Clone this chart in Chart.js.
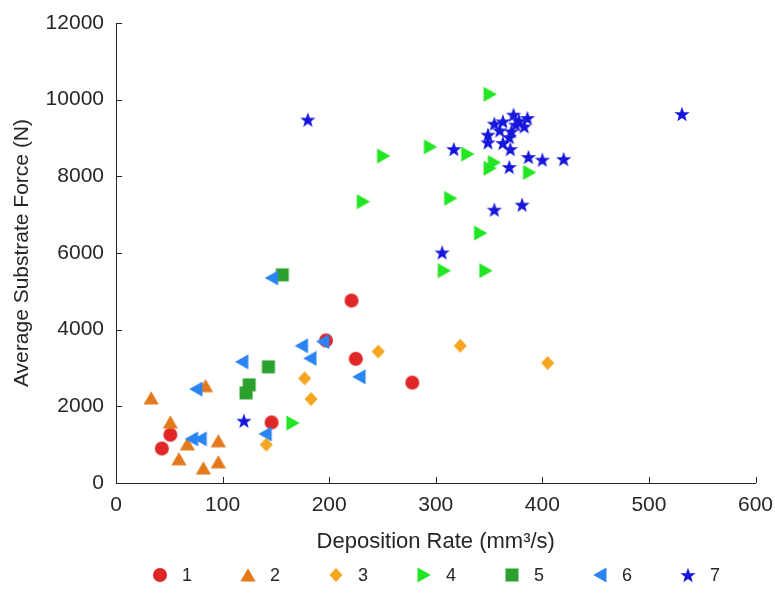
<!DOCTYPE html>
<html>
<head>
<meta charset="utf-8">
<script src="https://cdn.jsdelivr.net/npm/chart.js@4.4.1/dist/chart.umd.min.js"></script>
<style>
  html, body { margin: 0; padding: 0; background: #ffffff; }
  #wrap { position: relative; width: 775px; height: 612px; }
  #legend { position: absolute; left: 150px; top: 563px; height: 24px; display: flex; align-items: center;
            font-family: 'Liberation Sans', Arial, sans-serif; font-size: 18px; color: #262626; }
  .item { width: 88px; display: flex; align-items: center; }
  .item canvas { margin-right: 12px; }
</style>
</head>
<body>
<div id="wrap">
  <canvas id="c" width="775" height="612"></canvas>
  <div id="legend"></div>
</div>
<script>
// ---- data ----
const seriesNames = ['1', '2', '3', '4', '5', '6', '7'];

const s1x = [43, 51, 146, 197, 221, 225, 278];
const s1y = [900, 1260, 1580, 3720, 4760, 3240, 2620];

const s2x = [33, 51, 84, 67, 59, 82, 96, 96];
const s2y = [2220, 1590, 2540, 1020, 630, 390, 1100, 550];

const s3x = [141, 177, 183, 246, 323, 405];
const s3y = [1000, 2730, 2190, 3430, 3580, 3130];

const s4x = [166, 232, 251, 295, 308, 314, 330, 342, 347, 351, 351, 355, 388];
const s4y = [1565, 7340, 8530, 8770, 5540, 7425, 8580, 6520, 5540, 10140, 8210, 8360, 8100];

const s5x = [122, 125, 143, 156];
const s5y = [2350, 2560, 3030, 5430];

const s6x = [71, 79, 75, 118, 140, 146, 174, 182, 194, 228];
const s6y = [1150, 1150, 2450, 3160, 1280, 5350, 3580, 3250, 3690, 2770];

const s7x = [120, 180, 306, 317, 349, 349, 355, 363, 373, 386, 383, 371, 369, 363, 370, 369, 387, 400, 420, 355, 381, 531, 378, 360, 375];
const s7y = [1625, 9480, 6016, 8713, 8886, 9087, 9374, 9434, 9609, 9522, 9304, 9174, 9026, 8870, 8713, 8244, 8505, 8435, 8452, 7130, 7261, 9627, 9450, 9200, 9350];

const xTicks = [0, 100, 200, 300, 400, 500, 600];
const yTicks = [0, 2000, 4000, 6000, 8000, 10000, 12000];

const xTitle = 'Deposition Rate (mm³/s)';
const yTitle = 'Average Substrate Force (N)';

// ---- styles ----
const colors = ['#e02626', '#e27a1c', '#f5a51e', '#22e622', '#2ca02c', '#2a84f2', '#1616dc'];
const shapes = ['circle', 'up', 'diamond', 'right', 'square', 'left', 'star'];

function marker(shape, color) {
  const c = document.createElement('canvas');
  c.width = 20; c.height = 20;
  const g = c.getContext('2d');
  g.fillStyle = color;
  g.translate(10, 10);
  g.beginPath();
  if (shape === 'circle') {
    g.arc(0, 0, 7, 0, Math.PI * 2);
  } else if (shape === 'up') {
    g.moveTo(0, -6.8); g.lineTo(7.6, 6.5); g.lineTo(-7.6, 6.5);
  } else if (shape === 'diamond') {
    g.moveTo(0, -7); g.lineTo(6.5, 0); g.lineTo(0, 7); g.lineTo(-6.5, 0);
  } else if (shape === 'right') {
    g.moveTo(6.8, 0); g.lineTo(-6.5, -7.6); g.lineTo(-6.5, 7.6);
  } else if (shape === 'left') {
    g.moveTo(-6.8, 0); g.lineTo(6.5, -7.6); g.lineTo(6.5, 7.6);
  } else if (shape === 'square') {
    g.rect(-6.5, -6.5, 13, 13);
  } else if (shape === 'star') {
    const R = 8, r = 3.3;
    for (let i = 0; i < 10; i++) {
      const a = -Math.PI / 2 + i * Math.PI / 5;
      const rr = i % 2 === 0 ? R : r;
      const px = Math.cos(a) * rr, py = Math.sin(a) * rr + 0.8;
      if (i === 0) g.moveTo(px, py); else g.lineTo(px, py);
    }
  }
  g.closePath();
  g.fill();
  return c;
}

const xs = [s1x, s2x, s3x, s4x, s5x, s6x, s7x];
const ys = [s1y, s2y, s3y, s4y, s5y, s6y, s7y];

const datasets = seriesNames.map((name, i) => ({
  label: name,
  data: xs[i].map((x, k) => ({ x: x, y: ys[i][k] })),
  pointStyle: marker(shapes[i], colors[i]),
  backgroundColor: colors[i],
  borderColor: colors[i],
  pointRadius: 8,
  pointHoverRadius: 8,
  order: seriesNames.length - i
}));

const ink = '#262626';
Chart.defaults.font.family = "'Liberation Sans', Arial, Helvetica, sans-serif";
Chart.defaults.font.size = 21;
Chart.defaults.color = ink;

const inwardTicks = {
  id: 'inwardTicks',
  afterDatasetsDraw(chart) {
    const ctx = chart.ctx;
    const xs = chart.scales.x, ys = chart.scales.y;
    const a = chart.chartArea;
    ctx.save();
    ctx.strokeStyle = ink;
    ctx.lineWidth = 1;
    ctx.beginPath();
    xTicks.forEach(v => {
      const p = Math.round(xs.getPixelForValue(v)) + 0.5;
      ctx.moveTo(p, a.bottom); ctx.lineTo(p, a.bottom - 6);
    });
    yTicks.forEach(v => {
      const p = Math.round(ys.getPixelForValue(v)) + 0.5;
      ctx.moveTo(a.left, p); ctx.lineTo(a.left + 6, p);
    });
    ctx.stroke();
    ctx.restore();
  }
};

new Chart(document.getElementById('c'), {
  type: 'scatter',
  data: { datasets: datasets },
  plugins: [inwardTicks],
  options: {
    responsive: false,
    animation: false,
    layout: { padding: { top: 23, right: 19.5, bottom: 57, left: 0 } },
    plugins: { legend: { display: false }, tooltip: { enabled: false } },
    scales: {
      x: {
        type: 'linear', min: 0, max: 600,
        afterBuildTicks: s => { s.ticks = xTicks.map(v => ({ value: v })); },
        afterFit: s => { s.height = 72; s.paddingLeft = 0; s.paddingRight = 0; },
        grid: { display: false, drawTicks: false },
        border: { display: true, color: ink, width: 1 },
        ticks: { padding: 10, color: ink, font: { size: 21 }, callback: v => String(v) },
        title: { display: true, text: xTitle, color: ink, font: { size: 22 }, padding: { top: 0, bottom: 0 } }
      },
      y: {
        type: 'linear', min: 0, max: 12000,
        afterBuildTicks: s => { s.ticks = yTicks.map(v => ({ value: v })); },
        afterFit: s => { s.width = 116; s.paddingTop = 0; s.paddingBottom = 0; },
        grid: { display: false, drawTicks: false },
        border: { display: true, color: ink, width: 1 },
        ticks: { padding: 12, color: ink, font: { size: 21 }, callback: v => String(v) },
        title: { display: true, text: yTitle, color: ink, font: { size: 21 }, padding: { top: 10, bottom: 0 } }
      }
    }
  }
});

// legend (HTML, real text)
const leg = document.getElementById('legend');
seriesNames.forEach((name, i) => {
  const it = document.createElement('div');
  it.className = 'item';
  it.appendChild(marker(shapes[i], colors[i]));
  const sp = document.createElement('span');
  sp.textContent = name;
  it.appendChild(sp);
  leg.appendChild(it);
});
</script>
</body>
</html>
